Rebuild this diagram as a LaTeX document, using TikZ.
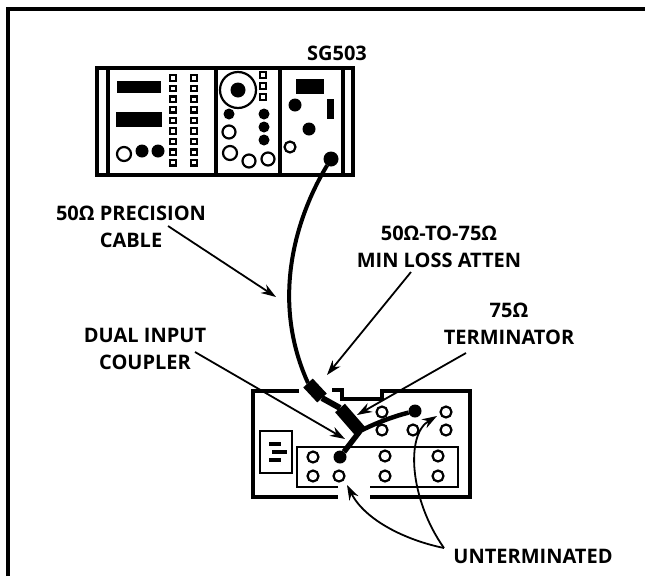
\documentclass[tikz,border=0pt]{standalone}
\usepackage{fontspec}
\setmainfont{Open Sans}
\usepackage{tikz}
\usetikzlibrary{arrows.meta,calc}

\begin{document}
\begin{tikzpicture}[
    x=1pt,y=-1pt,
    every node/.style={inner sep=0pt,outer sep=0pt},
    lbl/.style={font=\fontsize{20}{27}\selectfont\bfseries,align=center},
    openknob/.style={circle,draw,line width=2.2pt,fill=white,minimum size=#1},
    openknob/.default=11pt,
    fullknob/.style={circle,fill=black,minimum size=#1},
    fullknob/.default=11pt,
    lamp/.style={draw,line width=2.2pt,fill=white,minimum size=5.5pt},
    wall/.style={line width=4pt},
    thin wall/.style={line width=2.2pt},
    cable/.style={line width=4pt},
    pointer/.style={line width=1.8pt,-{Stealth[length=15pt,width=10pt]}}
  ]
    \useasboundingbox (0,0) rectangle (645,576);
    \draw[line width=4.5pt] (8,576) -- (8,9) -- (645,9);

    % generator
    \draw[wall] (97,68) rectangle (353,175);
    \foreach \x in {108,216,280,343}
      \draw[wall] (\x,68) -- (\x,175);
    \fill (117,81) rectangle (161,93);
    \fill (116,112) rectangle (162,127);
    \node[openknob=14pt] (knobA) at (124,154) {};
    \node[fullknob=13pt] (knobB) at (142,151) {};
    \node[fullknob=13pt] (knobC) at (158,151) {};
    \foreach \y in {0,...,8} {
      \node[lamp] (lampL\y) at (173,78+10.6*\y) {};
      \node[lamp] (lampR\y) at (194,78+10.6*\y) {};
    }
    \node[circle,draw,line width=2.2pt,minimum size=36pt] (dial) at (238,90) {};
    \node[fullknob=15pt] (dialHub) at (dial) {};
    \foreach \y [count=\i] in {75,86,97}
      \node[lamp] (lampM\i) at (263,\y) {};
    \node[fullknob=11pt] (knobD) at (229,114) {};
    \foreach \y [count=\i] in {114,127,140}
      \node[fullknob=11pt] (knobE\i) at (264,\y) {};
    \node[openknob=13pt] (knobF) at (229,132) {};
    \node[openknob=14pt] (knobG) at (230,153) {};
    \node[openknob=13pt] (knobH) at (249,161) {};
    \node[openknob=13pt] (knobI) at (268,159) {};
    \fill (296,79) rectangle (324,94);
    \fill (327,99) rectangle (334,119);
    \node[fullknob=13pt] (knobJ) at (295,105) {};
    \node[fullknob=13pt] (knobK) at (309,129) {};
    \node[openknob=11pt] (knobL) at (290,147) {};
    \node[fullknob=15pt] (sgOut) at (331,159) {};

    % monitor
    \draw[wall] (299,391) -- (253,391) -- (253,497) -- (338,497);
    \draw[wall] (370,497) -- (470,497) -- (470,391) -- (382,391) -- (382,399) -- (342,399) -- (342,390) -- (332,390);
    \draw[thin wall] (338,487) -- (297,487) -- (297,447) -- (458,447) -- (458,487) -- (370,487);
    \draw[thin wall] (260,431) rectangle (292,473);
    \fill (269,442) rectangle (281,446);
    \fill (272,450) rectangle (287,454);
    \fill (269,458) rectangle (281,462);
    \foreach \name/\x/\y in {a/382/412,b/382/430,c/413/430,d/446/412,e/446/430,
        f/313/457,g/385/456,h/438/456,i/313/476,j/339/476,k/385/476,m/438/476}
      \node[openknob] (bnc\name) at (\x,\y) {};
    \node[fullknob=13pt] (couplerIn) at (340,457) {};
    \node[fullknob=13pt] (termEnd) at (415,411) {};

    % cabling
    \coordinate (attenA) at (308,383);
    \coordinate (attenB) at (322,398);
    \coordinate (termA) at (340,408);
    \coordinate (termB) at (360,431);
    \draw[cable] (sgOut) .. controls (300,210) and (268,295) .. (attenA);
    \draw[line width=13pt] (attenA) -- (attenB);
    \draw[line width=6pt] (attenB) -- (termA);
    \draw[line width=13pt] (termA) -- (termB);
    \draw[line width=5.5pt] (termB) -- (couplerIn);
    \draw[line width=4.5pt] (termB) .. controls (378,422) and (395,416) .. (termEnd);

    % callouts
    \node[lbl] (lblSg) at (337,53) {SG503};
    \node[lbl] (lblCable) at (131,227) {50Ω PRECISION\\CABLE};
    \node[lbl] (lblAtten) at (439,247) {50Ω-TO-75Ω\\MIN LOSS ATTEN};
    \node[lbl] (lblTerm) at (509,324) {75Ω\\TERMINATOR};
    \node[lbl] (lblCoupler) at (145,349) {DUAL INPUT\\COUPLER};
    \node[lbl] (lblOpen) at (533,556) {UNTERMINATED};

    \coordinate (fromCable) at (168,226);
    \coordinate (toCable) at (276,297);
    \coordinate (fromAtten) at (411,272);
    \coordinate (toAtten) at (327,375);
    \coordinate (fromTerm) at (466,353);
    \coordinate (toTerm) at (357,415);
    \coordinate (fromCoupler) at (195,352);
    \coordinate (toCoupler) at (345,439);
    \coordinate (fork) at (444,548);
    \coordinate (toOpenA) at (347,485);
    \coordinate (toOpenB) at (437,416);
    \draw[pointer] (fromCable) -- (toCable);
    \draw[pointer] (fromAtten) -- (toAtten);
    \draw[pointer] (fromTerm) -- (toTerm);
    \draw[pointer] (fromCoupler) -- (toCoupler);
    \draw[pointer] (fork) .. controls (405,540) and (365,520) .. (toOpenA);
    \draw[pointer] (fork) .. controls (410,500) and (405,435) .. (toOpenB);
\end{tikzpicture}
\end{document}
